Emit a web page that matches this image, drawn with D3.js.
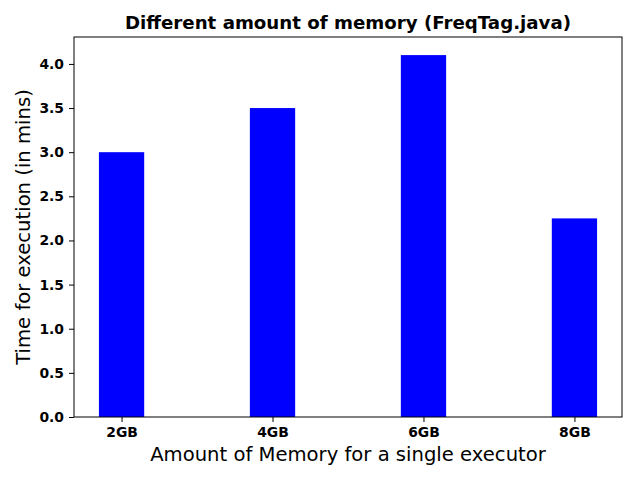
<!DOCTYPE html>
<html>
<head>
<meta charset="utf-8">
<script src="https://cdn.jsdelivr.net/npm/d3@7"></script>
<style>
  body { margin: 0; background: #fff; }
  svg { font-family: "DejaVu Sans", sans-serif; }
</style>
</head>
<body>
<div id="chart"></div>
<script>
const categories = ["2GB", "4GB", "6GB", "8GB"];
const times = [3.0, 3.5, 4.1, 2.25];
const yTicks = [0, 0.5, 1.0, 1.5, 2.0, 2.5, 3.0, 3.5, 4.0];

const width = 640, height = 480;
const margin = { top: 37, right: 18, bottom: 63, left: 74 };
const barWidth = 0.3;

const svg = d3.select("#chart").append("svg")
  .attr("width", width)
  .attr("height", height);

const n = categories.length;
const lo = -barWidth / 2, hi = n - 1 + barWidth / 2;
const pad = (hi - lo) * 0.05;
const x = d3.scaleLinear()
  .domain([lo - pad, hi + pad])
  .range([margin.left, width - margin.right]);

const yMax = d3.max(times) * 1.05;
const y = d3.scaleLinear()
  .domain([0, yMax])
  .range([height - margin.bottom, margin.top]);

svg.selectAll("rect.bar")
  .data(times)
  .enter()
  .append("rect")
  .attr("class", "bar")
  .attr("x", (d, i) => x(i - barWidth / 2))
  .attr("width", (d, i) => x(i + barWidth / 2) - x(i - barWidth / 2))
  .attr("y", d => y(d))
  .attr("height", d => y(0) - y(d))
  .attr("fill", "#0000ff");

// frame
svg.append("rect")
  .attr("x", margin.left)
  .attr("y", margin.top)
  .attr("width", width - margin.left - margin.right)
  .attr("height", height - margin.top - margin.bottom)
  .attr("fill", "none")
  .attr("stroke", "#000")
  .attr("stroke-width", 1);

const xAxis = svg.append("g")
  .attr("transform", `translate(0,${height - margin.bottom})`)
  .call(d3.axisBottom(x)
    .tickValues(d3.range(n))
    .tickFormat(i => categories[i])
    .tickSize(5)
    .tickPadding(5));
xAxis.select(".domain").remove();

const yAxis = svg.append("g")
  .attr("transform", `translate(${margin.left},0)`)
  .call(d3.axisLeft(y)
    .tickValues(yTicks)
    .tickFormat(d3.format(".1f"))
    .tickSize(5)
    .tickPadding(5));
yAxis.select(".domain").remove();

[xAxis, yAxis].forEach(g => {
  g.attr("font-family", "DejaVu Sans").attr("font-size", 13.9);
  g.selectAll(".tick text").attr("font-weight", "bold").attr("fill", "#000");
});

svg.append("text")
  .attr("x", (margin.left + width - margin.right) / 2)
  .attr("y", 29)
  .attr("text-anchor", "middle")
  .style("font-weight", "bold")
  .style("font-size", "18.2px")
  .text("Different amount of memory (FreqTag.java)");

svg.append("text")
  .attr("x", (margin.left + width - margin.right) / 2)
  .attr("y", 461)
  .attr("text-anchor", "middle")
  .style("font-size", "19.6px")
  .text("Amount of Memory for a single executor");

svg.append("text")
  .attr("transform", `translate(30,${(margin.top + height - margin.bottom) / 2}) rotate(-90)`)
  .attr("text-anchor", "middle")
  .style("font-size", "19.6px")
  .text("Time for execution (in mins)");
</script>
</body>
</html>
